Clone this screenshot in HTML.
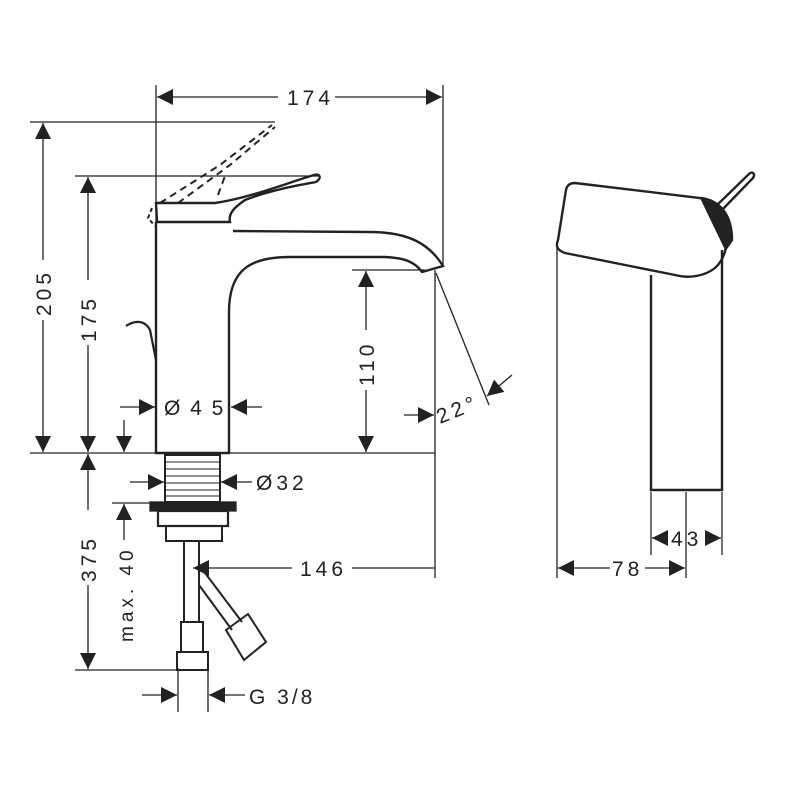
<!DOCTYPE html>
<html><head><style>html,body{margin:0;padding:0;background:#fff}svg{display:block}</style></head>
<body>
<svg width="800" height="800" viewBox="0 0 800 800" xmlns="http://www.w3.org/2000/svg" font-family="Liberation Sans, sans-serif">
<defs>
<marker id="a" viewBox="0 0 10 10" refX="10" refY="5" markerWidth="16" markerHeight="16" markerUnits="userSpaceOnUse" orient="auto"><path d="M0,0 L10,5 L0,10 z" fill="#222"/></marker>
</defs>
<g stroke="#222" stroke-width="1.3" fill="none">
<line x1="156" y1="85" x2="156" y2="453"/>
<line x1="443" y1="85" x2="443" y2="265"/>
<line x1="30" y1="122" x2="275" y2="122"/>
<line x1="75" y1="176" x2="318" y2="176"/>
<line x1="352" y1="270" x2="425" y2="270"/>
<line x1="30" y1="453" x2="435" y2="453"/>
<line x1="435" y1="270" x2="435" y2="578"/>
<line x1="436" y1="273" x2="489" y2="405"/>
<line x1="75" y1="670" x2="180" y2="670"/>
<line x1="112" y1="503" x2="150" y2="503"/>
<line x1="178" y1="668" x2="178" y2="712"/>
<line x1="208" y1="668" x2="208" y2="712"/>
<g marker-end="url(#a)">
<line x1="278" y1="97" x2="157" y2="97"/>
<line x1="335" y1="97" x2="442" y2="97"/>
<line x1="43" y1="260" x2="43" y2="123"/>
<line x1="43" y1="320" x2="43" y2="452"/>
<line x1="88" y1="280" x2="88" y2="177"/>
<line x1="88" y1="345" x2="88" y2="452"/>
<line x1="366" y1="330" x2="366" y2="271"/>
<line x1="366" y1="390" x2="366" y2="452"/>
<line x1="124" y1="420" x2="124" y2="452"/>
<line x1="88" y1="510" x2="88" y2="454"/>
<line x1="88" y1="585" x2="88" y2="669"/>
<line x1="124" y1="540" x2="124" y2="504"/>
<line x1="120" y1="407" x2="155" y2="407"/>
<line x1="262" y1="407" x2="231" y2="407"/>
<line x1="130" y1="482" x2="164" y2="482"/>
<line x1="252" y1="482" x2="221" y2="482"/>
<line x1="292" y1="568" x2="193" y2="568"/>
<line x1="404" y1="415" x2="434" y2="415"/>
<line x1="512" y1="375" x2="487" y2="396"/>
<line x1="142" y1="695" x2="177" y2="695"/>
<line x1="245" y1="695" x2="209" y2="695"/>
<line x1="610" y1="568" x2="558" y2="568"/>
<line x1="645" y1="568" x2="685" y2="568"/>
<line x1="668" y1="538" x2="652" y2="538"/>
<line x1="705" y1="538" x2="721" y2="538"/>
</g>
<line x1="352" y1="568" x2="435" y2="568"/>
<g stroke-width="2.4">
<path d="M156,222 L156,453 L229,453 L229,312 C229,270 250,257 290,257 L385,257 C405,258 415,262 422,272 L443,266 C430,245 410,232 370,232 L233,231"/>
<path d="M156,203 L157,222 L230,222 C228,213 235,207 245,200 C270,190 300,185 316,182 C322,178 320,173 314,175 C290,182 250,198 215,203 Z"/>
<path d="M126,326 C135,320 145,320 150,330 L156,360" stroke-width="2.2"/>
</g>
<path d="M160,203 L220,165 L272,125 M178,203 L230,165 L275,127 M218,195 L225,176" stroke-dasharray="7,5" stroke-width="2"/>
<path d="M152,208 L148,218 L155,226" stroke-dasharray="4,3" stroke-width="2"/>
<rect x="165" y="455" width="55" height="47" stroke-width="2"/>
<g stroke-width="1">
<line x1="166" y1="462" x2="219" y2="462"/><line x1="166" y1="469" x2="219" y2="469"/><line x1="166" y1="476" x2="219" y2="476"/><line x1="166" y1="483" x2="219" y2="483"/><line x1="166" y1="490" x2="219" y2="490"/><line x1="166" y1="496" x2="219" y2="496"/>
</g>
<rect x="150" y="502" width="86" height="9" fill="#222"/>
<rect x="158" y="511" width="70" height="15" stroke-width="2.2"/>
<rect x="166" y="526" width="56" height="15" stroke-width="2"/>
<g stroke-width="2">
<line x1="184" y1="541" x2="184" y2="622"/><line x1="199" y1="541" x2="199" y2="622"/>
<path d="M199,585 L232,630 M199,565 L242,622"/>
<rect x="181" y="622" width="22" height="30"/>
<rect x="177" y="652" width="31" height="18"/>
<path d="M226,630 L248,614 L266,642 L244,660 Z"/>
</g>
<line x1="557" y1="245" x2="557" y2="578"/>
<line x1="722" y1="492" x2="722" y2="555"/>
<line x1="651" y1="492" x2="651" y2="555"/>
<line x1="686" y1="492" x2="686" y2="578"/>
<g stroke-width="2.4">
<path d="M575,183 L700,198 C730,205 735,250 715,268 C705,276 690,278 680,276 L565,253 C556,250 556,245 558,240 L566,190 C567,185 570,183 575,183 Z"/>
<path d="M651,275 L651,490 L722,490 L722,250"/>
<path d="M700,198 C720,200 732,215 732,240 L725,250" fill="#222"/>
<path d="M714,208 L748,175 C752,170 756,174 753,178 L720,212"/>
</g>
</g>
<g fill="#222" font-size="21" letter-spacing="4">
<text x="287" y="105">174</text>
<text x="164" y="415" letter-spacing="2">Ø 4 5</text>
<text x="256" y="490">Ø32</text>
<text x="300" y="576">146</text>
<text x="440" y="424" transform="rotate(-22 440 424)">22°</text>
<text x="249" y="704" letter-spacing="3">G 3/8</text>
<text x="612" y="576">78</text>
<text x="671" y="546">43</text>
<text transform="translate(51,316) rotate(-90)">205</text>
<text transform="translate(96,342) rotate(-90)">175</text>
<text transform="translate(374,386) rotate(-90)">110</text>
<text transform="translate(96,582) rotate(-90)">375</text>
<text transform="translate(133,642) rotate(-90)" font-size="19">max. 40</text>
</g>
</svg>
</body></html>
